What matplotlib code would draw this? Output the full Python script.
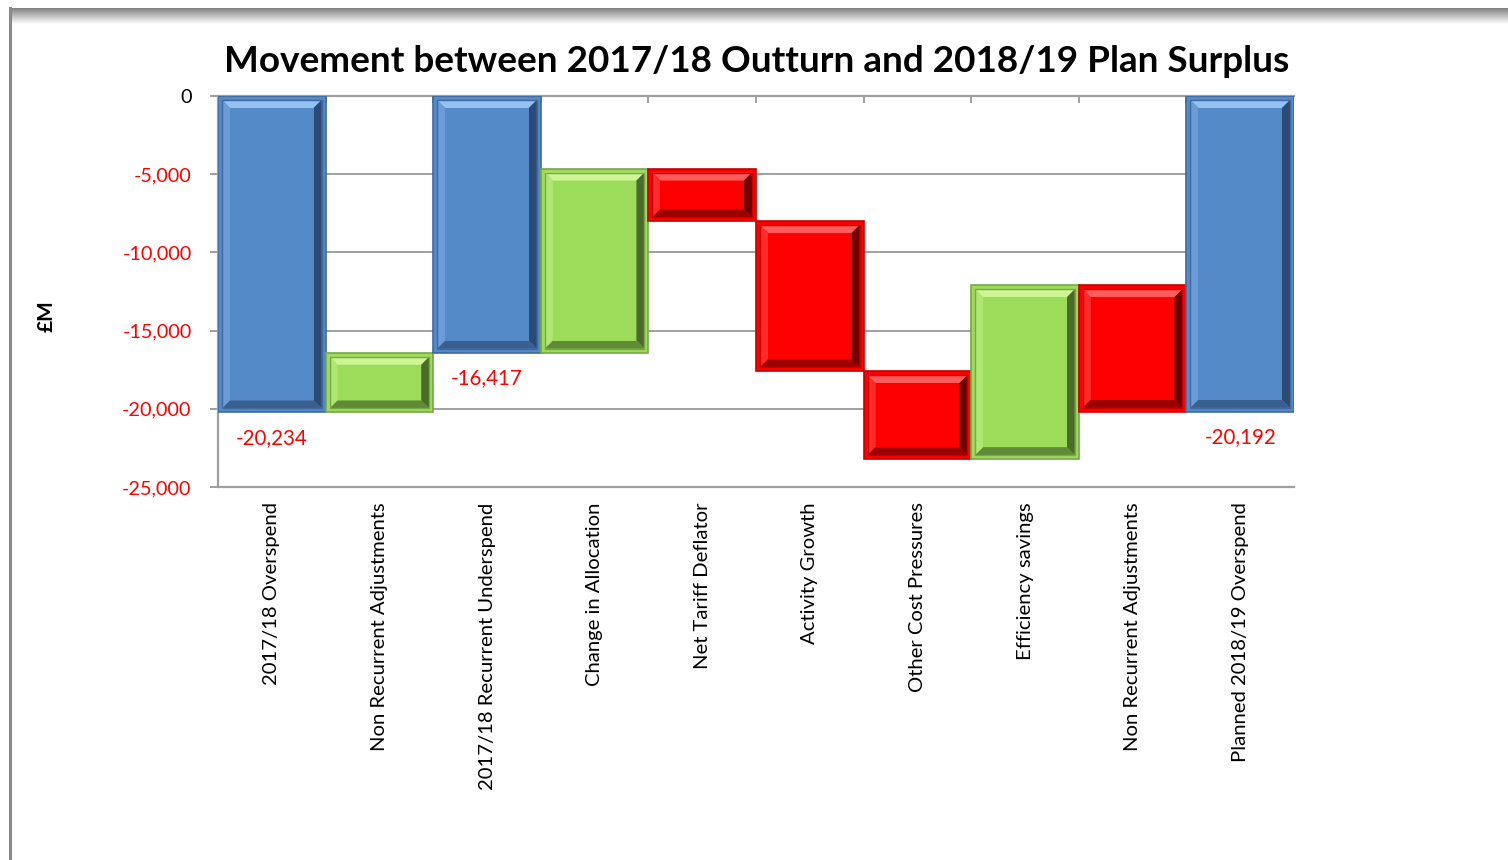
import numpy as np
import matplotlib
matplotlib.use("Agg")
import matplotlib.pyplot as plt
from matplotlib.patches import Rectangle, Polygon

plt.rcParams['font.family'] = ['Lato', 'DejaVu Sans']

# waterfall steps: totals restart from zero, deltas move the running level
categories = ['2017/18 Overspend', 'Non Recurrent Adjustments',
              '2017/18 Recurrent Underspend', 'Change in Allocation',
              'Net Tariff Deflator', 'Activity Growth', 'Other Cost Pressures',
              'Efficiency savings', 'Non Recurrent Adjustments',
              'Planned 2018/19 Overspend']
kinds = ['total', 'delta', 'total', 'delta', 'delta', 'delta', 'delta',
         'delta', 'delta', 'total']
amounts = [-20234, 3817, -16417, 11777, -3360, -9600, -5620, 11120, -8092, -20192]
yticks = [0, -5000, -10000, -15000, -20000, -25000]

# bar start / end levels
starts, ends = [], []
level = 0
for k, a in zip(kinds, amounts):
    if k == 'total':
        starts.append(0)
        ends.append(a)
        level = a
    else:
        starts.append(level)
        level = level + a
        ends.append(level)

# base, edge, top bevel, left bevel, right bevel, bottom bevel
palette = {
    'blue':  ['#558ac9', '#3f6a9e', '#92c1f2', '#6b9cd8', '#2c4a75', '#3a5f8f'],
    'green': ['#9ddb5b', '#76a846', '#cdf594', '#b0e672', '#4b6b2c', '#5f8a36'],
    'red':   ['#ff0000', '#c80000', '#ff5c5c', '#ff2b2b', '#6e0000', '#9a0000'],
}

fig = plt.figure(figsize=(15.08, 8.6), dpi=100)
ax = fig.add_axes([218 / 1508, 1 - 487 / 860, 1076 / 1508, 391 / 860])
ax.set_xlim(-0.5, 9.5)
ax.set_ylim(-25000, 0)

# data units per pixel
px_x = 10 / 1076
px_y = 25000 / 391


def bevel_bar(x, y0, y1, cols, m=4, b=8):
    base, edge, c_top, c_left, c_right, c_bot = cols
    lo, hi = min(y0, y1), max(y0, y1)
    xl, xr = x - 0.5, x + 0.5
    ax.add_patch(Rectangle((xl, lo), 1, hi - lo, facecolor=base,
                           edgecolor=edge, lw=1.2, zorder=3))
    # inset frame and inner face
    ax_l, ax_r = xl + m * px_x, xr - m * px_x
    ay_b, ay_t = lo + m * px_y, hi - m * px_y
    bb = min(b, (hi - lo) / px_y / 2 - m - 1)
    f_l, f_r = ax_l + bb * px_x, ax_r - bb * px_x
    f_b, f_t = ay_b + bb * px_y, ay_t - bb * px_y
    polys = [
        ([(ax_l, ay_t), (ax_r, ay_t), (f_r, f_t), (f_l, f_t)], c_top),
        ([(ax_l, ay_b), (ax_l, ay_t), (f_l, f_t), (f_l, f_b)], c_left),
        ([(ax_r, ay_t), (ax_r, ay_b), (f_r, f_b), (f_r, f_t)], c_right),
        ([(ax_l, ay_b), (f_l, f_b), (f_r, f_b), (ax_r, ay_b)], c_bot),
    ]
    for pts, c in polys:
        ax.add_patch(Polygon(pts, closed=True, facecolor=c, edgecolor='none', zorder=4))
    ax.add_patch(Rectangle((ax_l, ay_b), ax_r - ax_l, ay_t - ay_b, facecolor='none',
                           edgecolor=edge, lw=1.0, zorder=5))
    ax.add_patch(Rectangle((f_l, f_b), f_r - f_l, f_t - f_b, facecolor=base,
                           edgecolor='none', zorder=5))


for i, (k, s, e) in enumerate(zip(kinds, starts, ends)):
    if k == 'total':
        col = palette['blue']
    elif e > s:
        col = palette['green']
    else:
        col = palette['red']
    bevel_bar(i, s, e, col)

# value labels under the total bars
for i, (k, e) in enumerate(zip(kinds, ends)):
    if k == 'total':
        ax.annotate(f"{e:,}", (i, e), xytext=(0, -18.5), textcoords='offset points',
                    ha='center', va='center', color='#ff0000', fontsize=14.8)

# axes styling
grid_c = '#a0a0a0'
ax.set_yticks(yticks)
ax.set_yticklabels([f"{v:,}" for v in yticks], fontsize=14.3)
for lab, v in zip(ax.get_yticklabels(), yticks):
    lab.set_color('black' if v == 0 else '#ff0000')
ax.yaxis.grid(True, color=grid_c, lw=1.4)
ax.set_axisbelow(True)
ax.tick_params(axis='y', length=6, width=1.4, color=grid_c, pad=13)

ax.set_xticks(range(len(categories)))
ax.set_xticklabels(categories, rotation=90, va='top', ha='center', fontsize=14.6)
ax.tick_params(axis='x', which='major', length=0, pad=11)
ax.set_xticks(np.arange(0.5, 9.5, 1), minor=True)
ax.tick_params(axis='x', which='minor', bottom=False, top=True, direction='in',
               length=5, width=1.4, color=grid_c)

for side in ['top', 'left', 'bottom']:
    ax.spines[side].set_color(grid_c)
    ax.spines[side].set_linewidth(1.6)
ax.spines['right'].set_visible(False)

ax.set_ylabel('£M', fontsize=15, fontweight='bold')
ax.yaxis.set_label_coords(-0.150, 0.437)

fig.text(757 / 1508, 1 - 61 / 860, 'Movement between 2017/18 Outturn and 2018/19 Plan Surplus',
         ha='center', va='center', fontsize=26.6, fontweight='bold')

# page edge: shaded top band and a thin left border
band = fig.add_axes([10 / 1508, 1 - 24 / 860, 1 - 10 / 1508, 16 / 860])
grad = np.linspace(0.5, 1.0, 64).reshape(-1, 1)
band.imshow(np.repeat(grad, 2, axis=1), cmap='gray', vmin=0, vmax=1,
            aspect='auto', interpolation='bilinear')
band.axis('off')
fig.add_artist(plt.Line2D([10 / 1508, 10 / 1508], [0, 1 - 8 / 860],
                          color='#8a8a8a', lw=2.2))

fig.savefig('out.png', dpi=100)
